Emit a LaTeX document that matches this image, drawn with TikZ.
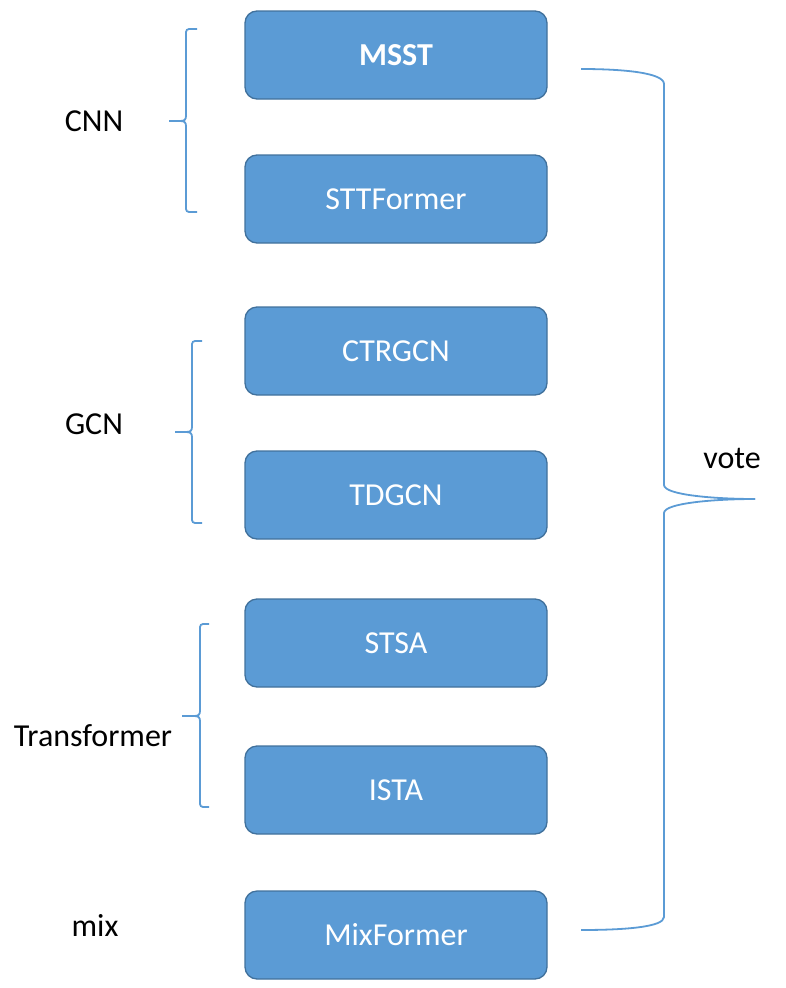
\documentclass[tikz,border=0pt]{standalone}
\usepackage{fontspec}
\setmainfont{Carlito}
\definecolor{boxfill}{HTML}{5B9BD5}
\definecolor{boxline}{HTML}{41719C}
\definecolor{brace}{HTML}{5B9BD5}
\newcommand{\mybrace}[6]{% xa xv xt y1 yt y2
  \draw[braceline] (#1,#4) -- ({#2+3},#4) to[out=180,in=90] (#2,{#4+3})
    -- (#2,{#5-5}) .. controls (#2,{#5-1}) and ({#2-2},#5) .. ({#2-6},#5) -- (#3,#5)
    (#3,#5) -- ({#2-6},#5) .. controls ({#2-2},#5) and (#2,{#5+1}) .. (#2,{#5+5})
    -- (#2,{#6-3}) to[out=-90,in=180] ({#2+3},#6) -- (#1,#6);}
\begin{document}
\begin{tikzpicture}[x=1pt,y=-1pt,
  model/.style={rectangle, rounded corners=12pt, fill=boxfill, draw=boxline,
    line width=1.3pt, minimum width=302pt, minimum height=88pt,
    text=white, font=\fontsize{32}{38}\selectfont},
  lab/.style={text=black, font=\fontsize{32}{38}\selectfont},
  braceline/.style={draw=brace, line width=1.8pt}]
\useasboundingbox (0,0) rectangle (786,988);
\node[model] (msst) at (396,55) {\bfseries MSST};
\node[model] (stt) at (396,199) {STTFormer};
\node[model] (ctr) at (396,351) {CTRGCN};
\node[model] (td) at (396,495) {TDGCN};
\node[model] (stsa) at (396,643) {STSA};
\node[model] (ista) at (396,790) {ISTA};
\node[model] (mix) at (396,935) {MixFormer};
\node[lab] (cnn) at (94,121) {CNN};
\node[lab] (gcn) at (94,424) {GCN};
\node[lab] (trans) at (93,736) {Transformer};
\node[lab] (mixl) at (95,925) {mix};
\node[lab] (vote) at (732,458) {vote};
\mybrace{197}{186}{169}{29}{121}{212}
\mybrace{202}{192}{175}{341}{432}{523}
\mybrace{209}{200}{182}{624}{716}{807}
\coordinate (rtop) at (581,69);
\coordinate (rbot) at (581,930);
\coordinate (rtip) at (755,499);
\draw[braceline] (rtop) .. controls (625,69) and (664,73) .. (664,84) -- (664,485)
  .. controls (664,495) and (715,499) .. (rtip);
\draw[braceline] (rtip) .. controls (715,499) and (664,503) .. (664,513) -- (664,917)
  .. controls (664,927) and (625,930) .. (rbot);
\end{tikzpicture}
\end{document}
